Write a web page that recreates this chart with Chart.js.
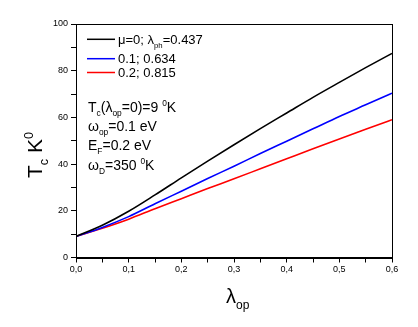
<!DOCTYPE html>
<html><head><meta charset="utf-8">
<script src="https://cdn.jsdelivr.net/npm/chart.js@4.4.0/dist/chart.umd.min.js"></script>
<style>html,body{margin:0;padding:0;background:#fff}#wrap{width:418px;height:327px}</style>
</head><body><div id="wrap"><canvas id="c" width="418" height="327"></canvas></div>
<script>
const lambdaOp = [0, 0.05, 0.1, 0.15, 0.2, 0.25, 0.3, 0.35, 0.4, 0.45, 0.5, 0.55, 0.6];
const tcMu0   = [9, 13.8, 19.8, 26.8, 34.1, 41.3, 48.3, 55.2, 61.9, 68.6, 75.0, 81.3, 87.4];
const tcMu01  = [9, 12.9, 17.5, 23.0, 28.4, 33.8, 39.1, 44.5, 49.8, 55.1, 60.4, 65.4, 70.4];
const tcMu02  = [9, 12.5, 16.4, 20.9, 25.2, 29.5, 33.7, 38.0, 42.3, 46.6, 50.8, 54.9, 59.0];
const seriesLabels = [
  [{t:'μ=0; λ'},{t:'ph',sub:true},{t:'=0.437'}],
  [{t:'0.1; 0.634'}],
  [{t:'0.2; 0.815'}]
];
const seriesColors = ['#000000', '#0000ff', '#ff0000'];
const notes = [
  [{t:'T'},{t:'c',sub:true},{t:'(λ'},{t:'op',sub:true},{t:'=0)=9 '},{t:'0',sup:true},{t:'K'}],
  [{t:'ω'},{t:'op',sub:true},{t:'=0.1 eV'}],
  [{t:'E'},{t:'F',sub:true},{t:'=0.2 eV'}],
  [{t:'ω'},{t:'D',sub:true},{t:'=350 '},{t:'0',sup:true},{t:'K'}]
];
const FONT = '"Liberation Sans", Arial, sans-serif';

function rich(ctx, segs, x, y, size) {
  let cx = x;
  for (const s of segs) {
    let fs = size, dy = 0;
    if (s.sub) { fs = size * 0.6; dy = size * 0.3; }
    if (s.sup) { fs = size * 0.6; dy = -size * 0.42; }
    ctx.font = fs + 'px ' + FONT;
    ctx.fillText(s.t, cx, y + dy);
    cx += ctx.measureText(s.t).width;
  }
  return cx;
}

const xy = arr => lambdaOp.map((v, i) => ({x: v, y: arr[i]}));

const decor = {
  id: 'decor',
  afterDraw(chart) {
    const ctx = chart.ctx, a = chart.chartArea;
    ctx.save();
    ctx.strokeStyle = '#000'; ctx.lineWidth = 1;
    ctx.strokeRect(Math.round(a.left) + 0.5, Math.round(a.top) + 0.5, Math.round(a.right - a.left), Math.round(a.bottom - a.top));
    ctx.fillStyle = '#000';
    ctx.textBaseline = 'alphabetic';
    // legend
    const lx = a.left + 11, ys = [39.3, 58.7, 72.5];
    seriesLabels.forEach((segs, i) => {
      ctx.strokeStyle = seriesColors[i]; ctx.lineWidth = 1.5;
      ctx.beginPath(); ctx.moveTo(lx, ys[i]); ctx.lineTo(lx + 28, ys[i]); ctx.stroke();
      ctx.fillStyle = '#000';
      rich(ctx, segs, lx + 31, ys[i] + 4.7, 13);
    });
    // notes
    const nb = [112, 131, 150, 170];
    notes.forEach((segs, i) => rich(ctx, segs, a.left + 12, nb[i], 14));
    // x title
    rich(ctx, [{t:'λ', }, {t:'op', sub:true}], 226, 303, 20);
    // y title
    ctx.translate(41.5, 178);
    ctx.rotate(-Math.PI / 2);
    rich(ctx, [{t:'T'}, {t:'c', sub:true}, {t:' K'}, {t:'0', sup:true}], 0, 0, 21);
    ctx.restore();
  }
};

new Chart(document.getElementById('c'), {
  type: 'line',
  data: {
    datasets: [
      {data: xy(tcMu0),  borderColor: seriesColors[0], borderWidth: 1.6, pointRadius: 0, cubicInterpolationMode: 'monotone', fill: false},
      {data: xy(tcMu01), borderColor: seriesColors[1], borderWidth: 1.6, pointRadius: 0, cubicInterpolationMode: 'monotone', fill: false},
      {data: xy(tcMu02), borderColor: seriesColors[2], borderWidth: 1.6, pointRadius: 0, cubicInterpolationMode: 'monotone', fill: false}
    ]
  },
  options: {
    responsive: false, animation: false, devicePixelRatio: 1,
    layout: {padding: {left: 0, top: 24, right: 26, bottom: 0}},
    plugins: {legend: {display: false}, tooltip: {enabled: false}},
    scales: {
      x: {
        type: 'linear', min: 0, max: 0.6,
        afterFit(s) { s.height = 69.5; },
        grid: {drawOnChartArea: false, drawTicks: true, tickLength: 5, color: '#000'},
        border: {display: true, color: '#000', width: 1},
        ticks: {
          stepSize: 0.05, autoSkip: false, maxRotation: 0, padding: 2, color: '#000',
          font: {family: FONT, size: 9},
          callback(v) { const k = Math.round(v * 100); return k % 10 === 0 ? (k / 100).toFixed(1).replace('.', ',') : ''; }
        }
      },
      y: {
        min: 0, max: 100,
        afterFit(s) { s.width = 76; },
        grid: {drawOnChartArea: false, drawTicks: true, tickLength: 5, color: '#000'},
        border: {display: true, color: '#000', width: 1},
        ticks: {
          stepSize: 10, autoSkip: false, padding: 3, color: '#000',
          font: {family: FONT, size: 9},
          callback(v) { return v % 20 === 0 ? String(v) : ''; }
        }
      }
    }
  },
  plugins: [decor]
});
</script>
</body></html>
